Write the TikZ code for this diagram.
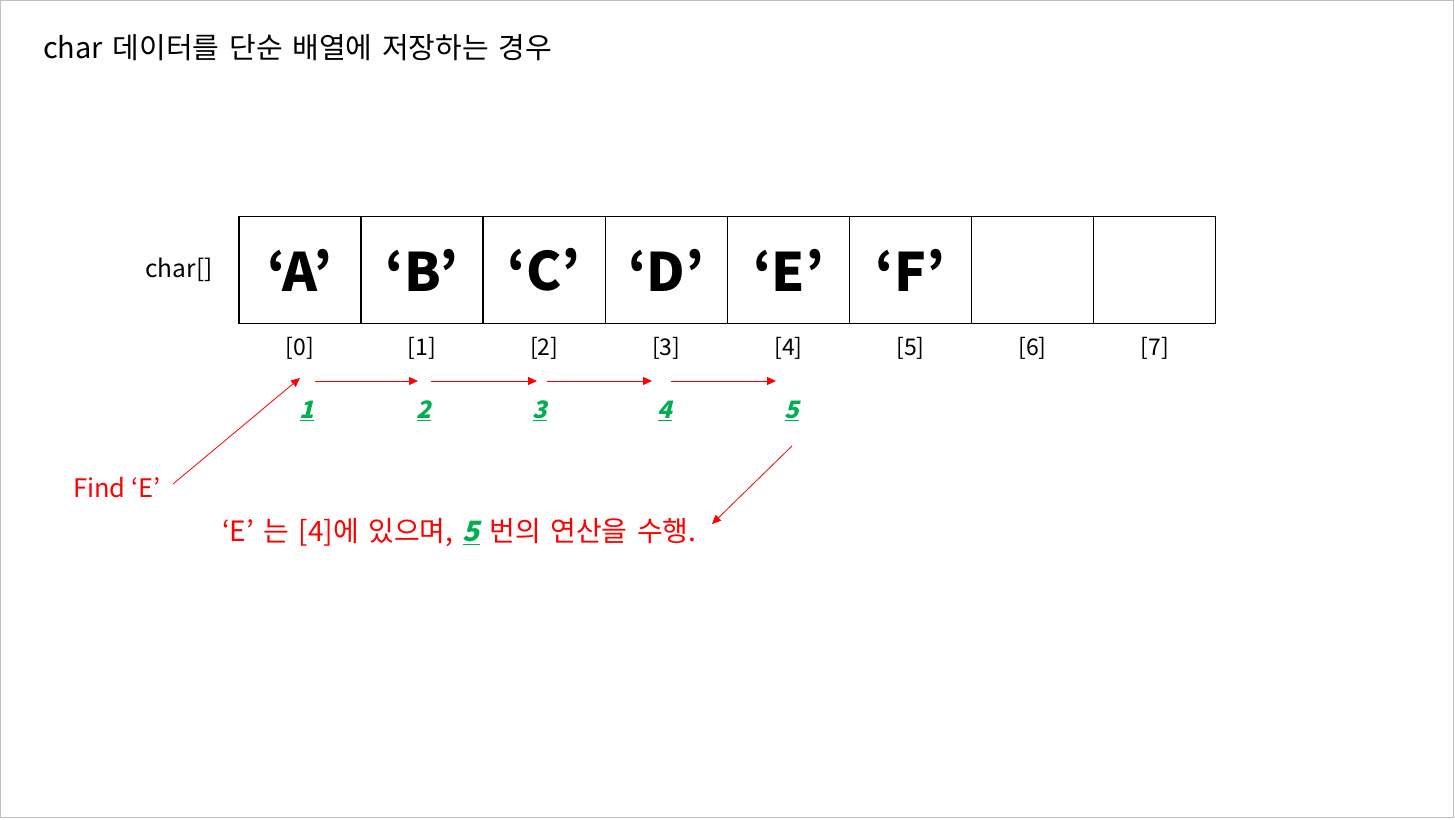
\documentclass[tikz,border=0pt]{standalone}
\usepackage{fontspec}
\setmainfont{Noto Sans CJK KR}
\newfontfamily\widefont[WordSpace=1.5]{Noto Sans CJK KR}
\newfontfamily\numfont[FakeSlant=0.25,BoldFeatures={FakeSlant=0.25}]{Noto Sans CJK KR}
\usetikzlibrary{arrows.meta}
\definecolor{myred}{RGB}{255,0,0}
\definecolor{mygreen}{RGB}{0,176,80}
\tikzset{
  cell/.style={draw, line width=1.3pt, minimum width=122pt, minimum height=107pt, inner sep=0pt, font=\fontsize{53}{60}\selectfont\bfseries},
  idx/.style={font=\fontsize{23}{27}\selectfont, inner sep=0pt},
  num/.style={font=\fontsize{24}{28}\selectfont\numfont\bfseries, text=mygreen, inner sep=0pt},
  redtxt/.style={text=myred, inner sep=0pt},
  redarrow/.style={draw=myred, line width=1pt, -{Triangle[length=9pt,width=8pt]}},
  thinarrow/.style={draw=myred, line width=0.8pt, -{Triangle[length=9pt,width=8pt]}},
}
\newcommand{\gul}[1]{\textcolor{mygreen}{\underline{{\numfont\bfseries #1}}}}
\begin{document}
\begin{tikzpicture}[x=1pt,y=-1pt]
\useasboundingbox (0,0) rectangle (1455,819);
\draw[gray!50, line width=1pt] (0.5,0.5) rectangle (1453.5,817.5);
\node[anchor=west, inner sep=0pt, font=\fontsize{29}{34}\selectfont\widefont] (title) at (43,48) {char 데이터를 단순 배열에 저장하는 경우};
\node[font=\fontsize{24.5}{29}\selectfont, inner sep=0pt] (lbl) at (179,270) {char[]};
\foreach \i/\t in {0/‘A’,1/‘B’,2/‘C’,3/‘D’,4/‘E’,5/‘F’,6/,7/} {
  \node[cell] (c\i) at ({300+122.1*\i},270) {\t};
  \node[idx] (i\i) at ({300+122.1*\i},348) {[\i]};
}
\coordinate (a1s) at (315,381); \coordinate (a1e) at (418,381);
\coordinate (a2s) at (431,381); \coordinate (a2e) at (537,381);
\coordinate (a3s) at (547,381); \coordinate (a3e) at (652,381);
\coordinate (a4s) at (671,381); \coordinate (a4e) at (776,381);
\draw[redarrow] (a1s) -- (a1e);
\draw[redarrow] (a2s) -- (a2e);
\draw[redarrow] (a3s) -- (a3e);
\draw[redarrow] (a4s) -- (a4e);
\node[num] (n1) at (307,411) {\underline{1}};
\node[num] (n2) at (424,411) {\underline{2}};
\node[num] (n3) at (540,411) {\underline{3}};
\node[num] (n4) at (665,411) {\underline{4}};
\node[num] (n5) at (792,411) {\underline{5}};
\node[redtxt, anchor=west, font=\fontsize{25.5}{30}\selectfont] (find) at (73,488) {Find ‘E’};
\coordinate (f1) at (173,484); \coordinate (f2) at (300,378);
\draw[thinarrow] (f1) -- (f2);
\node[redtxt, anchor=west, font=\fontsize{28}{32}\selectfont\widefont] (res) at (222,533) {‘E’ 는 [4]에 있으며, \gul{5} 번의 연산을 수행.};
\coordinate (r1) at (792,446); \coordinate (r2) at (712,524);
\draw[thinarrow] (r1) -- (r2);
\end{tikzpicture}
\end{document}
